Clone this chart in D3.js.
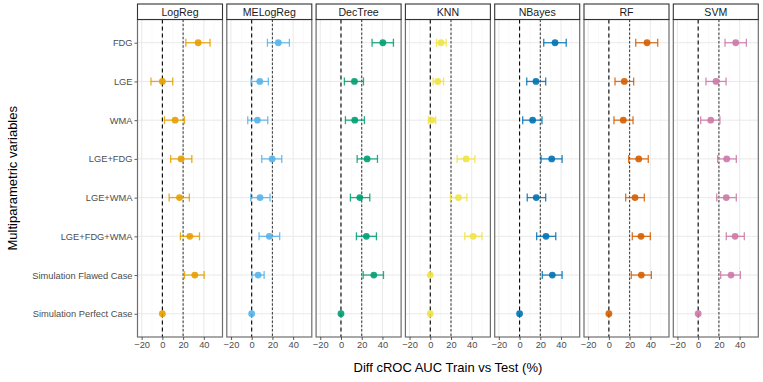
<!DOCTYPE html>
<html>
<head>
<meta charset="utf-8">
<script src="https://cdn.jsdelivr.net/npm/d3@7"></script>
<style>
  html, body { margin: 0; padding: 0; background: #fff; }
  svg { display: block; font-family: "Liberation Sans", Arial, sans-serif; }
</style>
</head>
<body>
<svg id="chart" width="763" height="382"></svg>
<script>
// ---- data ----
const models = ["LogReg", "MELogReg", "DecTree", "KNN", "NBayes", "RF", "SVM"];
const variables = ["FDG", "LGE", "WMA", "LGE+FDG", "LGE+WMA", "LGE+FDG+WMA",
                   "Simulation Flawed Case", "Simulation Perfect Case"];
const xTicks = [-20, 0, 20, 40];
const refLines = [0, 20];
const colors = ["#E69F00", "#56B4E9", "#009E73", "#F0E442", "#0072B2", "#D55E00", "#CC79A7"];

// estimate (point), lower and upper bound per model, in order of `variables`
const meanLogReg   = [34.5, 0, 12.3, 18, 16.5, 26.5, 31.3, 0];
const lowLogReg    = [22.6, -11, 2, 8, 6.5, 17.4, 21.3, 0];
const highLogReg   = [46, 10, 21.3, 28.4, 26, 35.8, 40.3, 0];

const meanMELogReg = [25.7, 7.8, 5.5, 19.7, 8.1, 17, 6.2, 0];
const lowMELogReg  = [15.2, -0.6, -3.8, 9.7, -0.9, 7.1, 0.4, 0];
const highMELogReg = [36.4, 16.1, 15.5, 29, 17.7, 27, 12, 0];

const meanDecTree  = [40.4, 13, 13.3, 25.2, 18.2, 24.5, 31.7, 0];
const lowDecTree   = [30, 3.3, 4.3, 15.6, 9.1, 14.9, 21.4, 0];
const highDecTree  = [50.6, 21.7, 22.6, 35.2, 27.8, 34.2, 41, 0];

const meanKNN      = [10.4, 7.2, 1.6, 34.6, 27.2, 41.4, 0, 0];
const lowKNN       = [6, 2.7, -1.8, 25.9, 19.5, 33.3, 0, 0];
const highKNN      = [15.3, 12.8, 5.2, 43, 35.3, 49.8, 0, 0];

const meanNBayes   = [34.2, 15.8, 12.6, 31, 16.1, 25.5, 31.6, 0];
const lowNBayes    = [23.3, 6.9, 3, 20.7, 7.4, 16.5, 21.9, 0];
const highNBayes   = [45, 25.2, 21.6, 41, 25.2, 34.9, 41, 0];

const meanRF       = [36.8, 14.9, 13.9, 28.8, 25.2, 31, 31.3, 0];
const lowRF        = [25.9, 5.9, 4.9, 19.1, 16.2, 22.6, 21.6, 0];
const highRF       = [47.1, 23.9, 23.3, 38, 34.2, 40, 41, 0];

const meanSVM      = [36.2, 17.2, 12.1, 27.5, 27.1, 35.6, 31.7, 0];
const lowSVM       = [25.9, 7.5, 2.4, 18.8, 17.9, 27.1, 21.7, 0];
const highSVM      = [46.5, 26.9, 21, 36.8, 36.8, 44.5, 40.7, 0];

const means = [meanLogReg, meanMELogReg, meanDecTree, meanKNN, meanNBayes, meanRF, meanSVM];
const lows  = [lowLogReg, lowMELogReg, lowDecTree, lowKNN, lowNBayes, lowRF, lowSVM];
const highs = [highLogReg, highMELogReg, highDecTree, highKNN, highNBayes, highRF, highSVM];

// ---- layout ----
const svg = d3.select("#chart");
const panelLeft = 137.5, panelW = 85, panelStep = 89.3;
const stripTop = 4, panelTop = 19.5, panelBottom = 337;

const y = d3.scalePoint().domain(variables).range([panelTop, panelBottom]).padding(0.6);

// y axis labels (left of first panel)
const yAxis = d3.axisLeft(y).tickSize(3).tickPadding(2);
const yg = svg.append("g").attr("transform", `translate(${panelLeft},0)`).call(yAxis);
yg.select(".domain").remove();
yg.selectAll(".tick line").attr("stroke", "#333").attr("stroke-width", 0.8);
yg.selectAll(".tick text").attr("fill", "#4D4D4D").style("font-size", "9.3px")
  .style("font-family", "'Liberation Sans', Arial, sans-serif");

models.forEach((m, i) => {
  const x0 = panelLeft + i * panelStep;
  const x = d3.scaleLinear().domain([-24, 58]).range([x0, x0 + panelW]);
  const g = svg.append("g");

  // grid minor
  const minor = [-10, 10, 30, 50];
  g.selectAll(".minor").data(minor).join("line")
    .attr("x1", d => x(d)).attr("x2", d => x(d))
    .attr("y1", panelTop).attr("y2", panelBottom)
    .attr("stroke", "#F2F2F2").attr("stroke-width", 0.5);
  // grid major
  g.selectAll(".major").data(xTicks).join("line")
    .attr("x1", d => x(d)).attr("x2", d => x(d))
    .attr("y1", panelTop).attr("y2", panelBottom)
    .attr("stroke", "#E6E6E6").attr("stroke-width", 0.9);
  g.selectAll(".hgrid").data(variables).join("line")
    .attr("x1", x0).attr("x2", x0 + panelW)
    .attr("y1", d => y(d)).attr("y2", d => y(d))
    .attr("stroke", "#E6E6E6").attr("stroke-width", 0.9);

  // reference dashed lines
  g.append("line").attr("x1", x(refLines[0])).attr("x2", x(refLines[0]))
    .attr("y1", panelTop).attr("y2", panelBottom)
    .attr("stroke", "#000").attr("stroke-width", 1.1).attr("stroke-dasharray", "4,3");
  g.append("line").attr("x1", x(refLines[1])).attr("x2", x(refLines[1]))
    .attr("y1", panelTop).attr("y2", panelBottom)
    .attr("stroke", "#444").attr("stroke-width", 1.1).attr("stroke-dasharray", "2.5,1.8");

  // error bars
  const rows = variables.map((v, j) => ({ v, m: means[i][j], lo: lows[i][j], hi: highs[i][j] }));
  const col = colors[i];
  const eb = g.selectAll(".eb").data(rows.filter(r => r.hi > r.lo)).join("g");
  eb.append("line").attr("x1", d => x(d.lo)).attr("x2", d => x(d.hi))
    .attr("y1", d => y(d.v)).attr("y2", d => y(d.v))
    .attr("stroke", col).attr("stroke-width", 1.3).attr("opacity", 0.85);
  eb.append("line").attr("x1", d => x(d.lo)).attr("x2", d => x(d.lo))
    .attr("y1", d => y(d.v) - 4).attr("y2", d => y(d.v) + 4)
    .attr("stroke", col).attr("stroke-width", 1.3).attr("opacity", 0.85);
  eb.append("line").attr("x1", d => x(d.hi)).attr("x2", d => x(d.hi))
    .attr("y1", d => y(d.v) - 4).attr("y2", d => y(d.v) + 4)
    .attr("stroke", col).attr("stroke-width", 1.3).attr("opacity", 0.85);
  // points
  g.selectAll(".pt").data(rows).join("circle")
    .attr("cx", d => x(d.m)).attr("cy", d => y(d.v)).attr("r", 3.4)
    .attr("fill", col).attr("opacity", 0.9);

  // panel border
  g.append("rect").attr("x", x0).attr("y", panelTop).attr("width", panelW)
    .attr("height", panelBottom - panelTop)
    .attr("fill", "none").attr("stroke", "#6E6E6E").attr("stroke-width", 1.2);

  // strip
  g.append("rect").attr("x", x0).attr("y", stripTop).attr("width", panelW)
    .attr("height", panelTop - stripTop)
    .attr("fill", "#fff").attr("stroke", "#333").attr("stroke-width", 1.1);
  g.append("text").attr("x", x0 + panelW / 2).attr("y", (stripTop + panelTop) / 2)
    .attr("dy", "0.36em").attr("text-anchor", "middle")
    .attr("fill", "#1A1A1A").style("font-size", "10.6px").text(m);

  // x axis
  const xAxis = d3.axisBottom(x).tickValues(xTicks).tickSize(3).tickPadding(1.5)
    .tickFormat(d => d < 0 ? "\u2212" + Math.abs(d) : d);
  const xg = g.append("g").attr("transform", `translate(0,${panelBottom})`).call(xAxis);
  xg.select(".domain").remove();
  xg.selectAll(".tick line").attr("stroke", "#333").attr("stroke-width", 0.8);
  xg.selectAll(".tick text").attr("fill", "#4D4D4D").style("font-size", "9.3px")
    .style("font-family", "'Liberation Sans', Arial, sans-serif");
});

// axis titles
svg.append("text").attr("x", panelLeft + (6 * panelStep + panelW) / 2).attr("y", 372)
  .attr("text-anchor", "middle").attr("fill", "#000").style("font-size", "13px")
  .text("Diff cROC AUC Train vs Test (%)");
svg.append("text").attr("transform", `translate(17,${(panelTop + panelBottom) / 2}) rotate(-90)`)
  .attr("text-anchor", "middle").attr("fill", "#000").style("font-size", "13px")
  .text("Multiparametric variables");
</script>
</body>
</html>
